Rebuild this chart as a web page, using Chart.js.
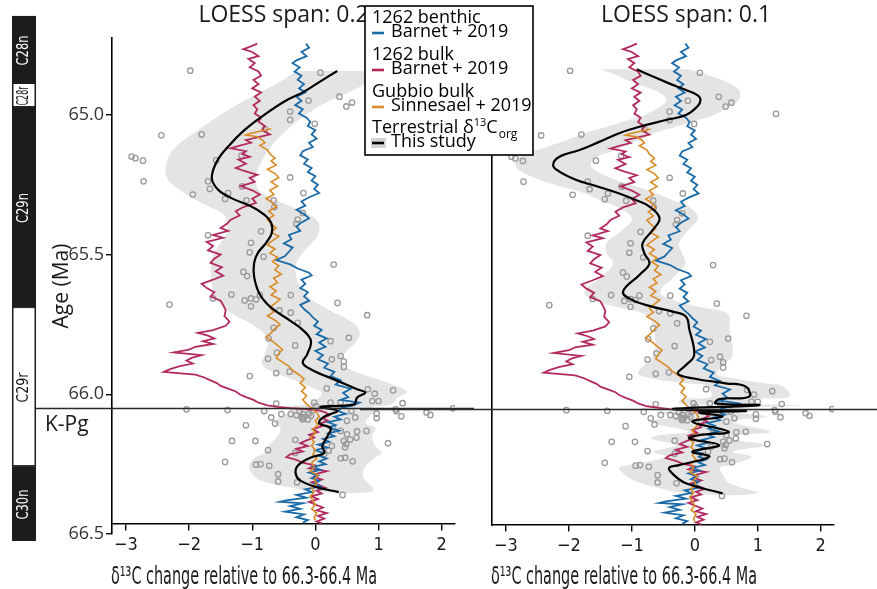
<!DOCTYPE html>
<html>
<head>
<meta charset="utf-8">
<script src="https://cdn.jsdelivr.net/npm/chart.js@4.4.1/dist/chart.umd.min.js"></script>
<style>
  html, body { margin: 0; padding: 0; background: #fff; }
  #wrap { position: relative; width: 877px; height: 589px; overflow: hidden; }
  #wrap canvas { position: absolute; top: 0; }
</style>
</head>
<body>
<div id="wrap">
  <canvas id="left-chart" width="474" height="589" style="left:0"></canvas>
  <canvas id="right-chart" width="517" height="589" style="left:360px"></canvas>
</div>

<script>
  // axis ticks
  const xTicks = [-3, -2, -1, 0, 1, 2];
  const yTicks = [65.0, 65.5, 66.0, 66.5];
  const kpgAge = 66.048;

  // magnetochrons (age in Ma)
  const chronNames = ['C28n', 'C28r', 'C29n', 'C29r', 'C30n'];
  const chronTop = [64.646, 64.886, 64.972, 65.688, 66.257];
  const chronBase = [64.886, 64.972, 65.688, 66.257, 66.525];
  const chronNormal = [true, false, true, false, true];

  // 1262 benthic (Barnet et al. 2019)
  const benthicAge = [64.745, 64.76, 64.775, 64.79, 64.805, 64.815, 64.83, 64.845, 64.86, 64.875, 64.89, 64.905, 64.92, 64.935, 64.95, 64.965, 64.98, 64.995, 65.01, 65.025, 65.04, 65.055, 65.07, 65.085, 65.10, 65.115, 65.13, 65.145, 65.16, 65.175, 65.19, 65.205, 65.22, 65.235, 65.25, 65.265, 65.28, 65.295, 65.31, 65.325, 65.34, 65.355, 65.37, 65.385, 65.40, 65.415, 65.43, 65.445, 65.46, 65.475, 65.49, 65.505, 65.52, 65.535, 65.55, 65.565, 65.575, 65.59, 65.605, 65.62, 65.635, 65.65, 65.665, 65.68, 65.695, 65.71, 65.725, 65.74, 65.755, 65.77, 65.785, 65.80, 65.815, 65.83, 65.845, 65.86, 65.875, 65.89, 65.905, 65.92, 65.935, 65.95, 65.965, 65.98, 65.995, 66.01, 66.02, 66.03, 66.04, 66.048, 66.06, 66.07, 66.08, 66.09, 66.10, 66.11, 66.12, 66.13, 66.14, 66.15, 66.16, 66.17, 66.18, 66.19, 66.20, 66.21, 66.22, 66.23, 66.24, 66.25, 66.26, 66.27, 66.28, 66.29, 66.30, 66.31, 66.32, 66.33, 66.34, 66.35, 66.36, 66.37, 66.38, 66.385, 66.39, 66.40, 66.41, 66.42, 66.43, 66.44, 66.45, 66.46];
  const benthicD13C = [-0.15, -0.10, -0.22, -0.14, -0.30, -0.36, -0.25, -0.33, -0.22, -0.28, -0.18, -0.26, -0.16, -0.30, -0.22, -0.32, -0.20, -0.26, -0.14, -0.08, -0.12, 0.00, -0.06, 0.02, -0.10, -0.04, -0.20, -0.24, -0.12, -0.18, -0.06, -0.12, 0.00, -0.06, 0.04, -0.02, 0.06, -0.10, -0.22, -0.16, -0.30, -0.18, -0.10, -0.22, -0.30, -0.24, -0.42, -0.38, -0.50, -0.36, -0.42, -0.48, -0.62, -0.40, -0.28, -0.10, -0.06, -0.22, -0.16, -0.24, -0.12, -0.18, -0.10, -0.24, -0.18, -0.10, -0.04, 0.04, -0.02, 0.10, 0.02, 0.18, 0.06, 0.16, 0.00, 0.12, 0.04, 0.20, 0.14, 0.30, 0.24, 0.40, 0.32, 0.56, 0.44, 0.52, 0.40, 0.70, 0.60, 0.42, 0.36, 0.48, 0.30, 0.40, 0.20, 0.32, 0.22, 0.38, 0.20, 0.30, 0.12, 0.22, 0.04, 0.18, 0.00, 0.12, 0.06, 0.18, 0.06, 0.16, -0.04, 0.08, -0.10, 0.04, -0.06, 0.06, -0.02, 0.08, -0.16, -0.06, -0.30, -0.14, -0.46, -0.56, -0.20, -0.40, -0.24, -0.48, -0.18, -0.30, -0.12, -0.20];

  // 1262 bulk (Barnet et al. 2019)
  const bulkAge = [64.745, 64.755, 64.765, 64.775, 64.79, 64.80, 64.815, 64.83, 64.845, 64.86, 64.875, 64.89, 64.905, 64.92, 64.935, 64.95, 64.965, 64.98, 64.995, 65.01, 65.025, 65.04, 65.055, 65.07, 65.08, 65.09, 65.10, 65.11, 65.12, 65.13, 65.14, 65.15, 65.16, 65.175, 65.19, 65.20, 65.215, 65.225, 65.24, 65.255, 65.27, 65.285, 65.30, 65.315, 65.33, 65.345, 65.36, 65.375, 65.39, 65.405, 65.415, 65.43, 65.44, 65.455, 65.47, 65.485, 65.50, 65.515, 65.53, 65.545, 65.56, 65.575, 65.59, 65.605, 65.62, 65.635, 65.65, 65.665, 65.68, 65.70, 65.72, 65.74, 65.755, 65.77, 65.78, 65.79, 65.80, 65.81, 65.82, 65.83, 65.84, 65.85, 65.86, 65.87, 65.88, 65.89, 65.90, 65.91, 65.92, 65.93, 65.94, 65.95, 65.96, 65.97, 65.98, 65.99, 66.00, 66.01, 66.02, 66.03, 66.04, 66.045, 66.05, 66.053, 66.058, 66.065, 66.075, 66.085, 66.095, 66.105, 66.115, 66.125, 66.135, 66.145, 66.155, 66.165, 66.175, 66.185, 66.195, 66.205, 66.215, 66.225, 66.235, 66.245, 66.255, 66.265, 66.275, 66.285, 66.295, 66.305, 66.315, 66.325, 66.335, 66.345, 66.355, 66.365, 66.375, 66.385, 66.395, 66.405, 66.415, 66.425, 66.435, 66.445, 66.455, 66.462];
  const bulkD13C = [-0.92, -1.02, -1.14, -1.00, -0.90, -1.06, -0.96, -1.04, -0.90, -0.86, -0.98, -0.90, -1.00, -0.86, -0.96, -0.88, -0.98, -0.92, -0.96, -0.86, -0.90, -0.80, -0.84, -0.72, -0.90, -1.10, -1.02, -1.20, -1.34, -1.10, -1.16, -1.04, -1.22, -1.10, -1.26, -1.14, -0.92, -1.04, -0.96, -1.18, -1.00, -0.88, -1.00, -0.94, -1.14, -1.26, -1.20, -1.34, -1.40, -1.50, -1.38, -1.62, -1.46, -1.72, -1.62, -1.70, -1.50, -1.60, -1.66, -1.48, -1.58, -1.46, -1.62, -1.80, -1.72, -1.60, -1.66, -1.50, -1.46, -1.42, -1.44, -1.36, -1.42, -1.62, -1.86, -1.70, -1.60, -1.78, -1.62, -1.90, -2.00, -2.24, -1.80, -1.96, -2.04, -1.94, -2.16, -2.30, -2.40, -1.90, -1.76, -1.66, -1.56, -1.50, -1.38, -1.26, -1.20, -1.10, -0.98, -0.90, -0.76, -0.60, -0.40, -0.15, 0.05, 0.16, 0.22, 0.12, 0.20, 0.06, 0.10, -0.04, 0.04, -0.10, -0.02, -0.14, -0.24, -0.12, -0.30, -0.20, -0.40, -0.46, -0.30, -0.20, 0.00, -0.10, 0.18, 0.02, -0.02, 0.10, -0.06, 0.06, 0.16, 0.02, 0.10, -0.06, 0.04, -0.10, 0.00, 0.12, 0.02, 0.18, 0.04, 0.14, 0.02, 0.10];

  // Gubbio bulk (Sinnesael et al. 2019)
  const gubbioAge = [65.050, 65.058, 65.066, 65.072, 65.078, 65.09, 65.10, 65.11, 65.125, 65.14, 65.155, 65.165, 65.18, 65.195, 65.21, 65.225, 65.24, 65.255, 65.27, 65.285, 65.30, 65.315, 65.33, 65.345, 65.36, 65.375, 65.39, 65.405, 65.42, 65.435, 65.45, 65.465, 65.48, 65.495, 65.51, 65.525, 65.54, 65.555, 65.57, 65.585, 65.60, 65.615, 65.63, 65.645, 65.66, 65.675, 65.69, 65.705, 65.72, 65.735, 65.75, 65.765, 65.78, 65.795, 65.81, 65.825, 65.84, 65.855, 65.87, 65.885, 65.90, 65.915, 65.93, 65.945, 65.96, 65.975, 65.99, 66.005, 66.02, 66.035, 66.05, 66.065, 66.08, 66.095, 66.11, 66.125, 66.14, 66.155, 66.17, 66.185, 66.20, 66.215, 66.23, 66.245, 66.26, 66.275, 66.29, 66.305, 66.32, 66.335, 66.35, 66.365, 66.38, 66.395, 66.41, 66.425, 66.44, 66.452];
  const gubbioD13C = [-0.70, -0.86, -1.02, -1.10, -0.92, -0.84, -0.80, -0.88, -0.76, -0.72, -0.64, -0.70, -0.62, -0.76, -0.64, -0.58, -0.70, -0.60, -0.72, -0.66, -0.78, -0.68, -0.62, -0.74, -0.66, -0.76, -0.70, -0.62, -0.70, -0.58, -0.68, -0.76, -0.64, -0.72, -0.60, -0.68, -0.58, -0.64, -0.54, -0.66, -0.60, -0.72, -0.62, -0.70, -0.56, -0.64, -0.72, -0.66, -0.76, -0.64, -0.56, -0.64, -0.70, -0.78, -0.68, -0.60, -0.52, -0.58, -0.62, -0.52, -0.42, -0.36, -0.26, -0.18, -0.24, -0.16, -0.22, -0.14, -0.20, -0.14, -0.06, 0.02, 0.06, 0.00, 0.04, -0.04, 0.00, -0.08, -0.02, -0.06, 0.00, -0.04, 0.02, -0.06, -0.02, -0.08, 0.04, -0.02, 0.02, -0.06, -0.02, -0.08, -0.04, 0.00, -0.06, 0.02, -0.02, 0.00];

  // terrestrial d13C org (this study)
  const terrAge = [64.842, 64.849, 64.935, 64.956, 64.970, 64.949, 64.988, 65.018, 65.032, 64.996, 65.051, 65.073, 65.070, 65.149, 65.155, 65.164, 65.238, 65.238, 65.265, 65.280, 65.285, 65.301, 65.306, 65.306, 65.330, 65.224, 65.280, 65.375, 65.390, 65.351, 65.417, 65.431, 65.458, 65.492, 65.508, 65.562, 65.577, 65.536, 65.163, 65.146, 65.256, 65.679, 65.657, 65.643, 65.664, 65.657, 65.661, 65.685, 65.645, 65.645, 65.673, 65.717, 65.700, 65.708, 65.744, 65.762, 65.800, 65.825, 65.798, 65.810, 65.851, 65.873, 65.863, 65.883, 65.902, 65.875, 65.924, 65.919, 65.935, 65.979, 65.982, 65.998, 65.986, 66.024, 66.024, 66.032, 66.030, 66.042, 66.030, 66.030, 66.033, 66.054, 66.056, 66.060, 66.071, 66.083, 66.071, 66.071, 66.083, 66.089, 66.077, 66.060, 66.083, 66.069, 66.085, 66.054, 66.060, 66.079, 66.065, 66.074, 66.050, 66.105, 66.111, 66.095, 66.131, 66.133, 66.131, 66.143, 66.155, 66.167, 66.162, 66.190, 66.178, 66.167, 66.167, 66.163, 66.175, 66.200, 66.210, 66.214, 66.202, 66.185, 66.229, 66.227, 66.240, 66.242, 66.252, 66.250, 66.256, 66.286, 66.312, 66.315, 66.360, 66.062, 66.068, 66.075, 66.082, 66.090, 66.058, 66.095, 66.120];
  const terrD13C = [-1.98, 0.08, 0.38, 0.58, 0.49, -0.11, -0.40, -0.40, -0.01, 1.29, -0.80, -2.44, -1.80, -2.91, -2.85, -2.73, -2.72, -1.70, -1.67, -1.38, -1.94, -1.43, -1.09, -0.66, -0.65, -0.40, -0.19, -0.28, -0.30, -0.20, -0.86, -1.70, -1.02, -1.04, -0.82, -1.14, -1.08, 0.29, -1.57, -1.17, -1.16, -2.31, -1.62, -1.33, -1.12, -1.02, -0.94, -1.02, -0.88, -0.39, 0.35, 0.82, -0.57, -0.39, -0.28, -0.66, -0.74, -0.32, 0.53, 0.24, -0.61, -0.75, 0.40, 0.45, 0.45, 0.26, -0.62, -0.41, -1.04, 0.18, 0.83, 0.94, 1.23, 0.90, 1.00, 1.38, -0.02, 0.01, 0.24, 0.40, -0.62, -2.04, -1.39, -0.81, -0.54, -0.70, -0.39, -0.20, -0.18, -0.20, -0.07, 0.57, 0.63, 0.97, 0.97, 1.27, 1.28, 1.36, 1.76, 1.82, 2.18, -0.64, -1.10, 0.50, 0.40, 0.66, 0.81, 0.50, 0.65, 0.45, 0.55, 0.47, 0.49, -1.32, -0.95, -0.32, 1.15, -0.75, -0.32, 0.14, 0.21, 0.26, 0.40, 0.47, 0.59, -1.43, -0.94, -0.87, -0.73, -0.59, -0.59, -0.29, 0.43, -0.25, -0.10, -0.30, -0.22, -0.12, -0.05, 0.10, 0.28];

  // LOESS fit, span 0.2, with confidence band
  const loess02Age = [64.843, 64.88, 64.917, 64.952, 65.0, 65.054, 65.113, 65.167, 65.226, 65.268, 65.298, 65.327, 65.357, 65.387, 65.423, 65.458, 65.494, 65.53, 65.58, 65.643, 65.69, 65.738, 65.774, 65.81, 65.857, 65.887, 65.911, 65.952, 65.982, 65.994, 66.012, 66.036, 66.045, 66.059, 66.08, 66.104, 66.121, 66.15, 66.186, 66.21, 66.226, 66.256, 66.286, 66.31, 66.333, 66.35];
  const loess02Fit = [0.345, 0.08, -0.18, -0.49, -0.81, -1.12, -1.38, -1.56, -1.64, -1.54, -1.33, -1.02, -0.81, -0.70, -0.69, -0.78, -0.91, -0.97, -0.97, -0.88, -0.70, -0.39, -0.18, -0.07, -0.13, -0.20, -0.07, 0.35, 0.66, 0.79, 0.66, 0.61, 0.08, 0.35, 0.14, 0.06, 0.24, 0.19, 0.11, 0.14, -0.07, -0.28, -0.31, -0.23, 0.03, 0.37];
  const loess02Lo = [-0.30, -0.55, -0.85, -1.15, -1.50, -1.85, -2.20, -2.35, -2.35, -2.15, -1.95, -1.70, -1.45, -1.40, -1.40, -1.50, -1.60, -1.65, -1.65, -1.60, -1.45, -1.10, -0.85, -0.75, -0.80, -0.85, -0.75, -0.30, 0.00, 0.10, 0.05, -0.15, -0.55, -0.40, -0.55, -0.65, -0.55, -0.60, -0.75, -0.80, -0.95, -1.05, -1.00, -0.85, -0.40, 0.00];
  const loess02Hi = [0.75, 0.80, 0.55, 0.20, -0.15, -0.45, -0.70, -0.85, -0.95, -0.90, -0.70, -0.40, -0.10, 0.05, 0.05, -0.05, -0.20, -0.30, -0.30, -0.15, 0.15, 0.55, 0.70, 0.65, 0.45, 0.40, 0.55, 1.05, 1.40, 1.45, 1.30, 1.20, 0.90, 1.00, 0.85, 0.80, 0.95, 0.90, 0.95, 1.05, 0.95, 0.80, 0.75, 0.80, 0.90, 0.90];

  // LOESS fit, span 0.1, with confidence band
  const loess01Age = [64.837, 64.857, 64.887, 64.911, 64.929, 64.946, 64.970, 65.0, 65.018, 65.042, 65.065, 65.095, 65.125, 65.149, 65.179, 65.202, 65.232, 65.25, 65.28, 65.304, 65.327, 65.369, 65.411, 65.458, 65.494, 65.53, 65.571, 65.631, 65.661, 65.685, 65.702, 65.720, 65.762, 65.857, 65.893, 65.923, 65.940, 65.958, 65.970, 66.006, 66.014, 66.030, 66.036, 66.050, 66.057, 66.062, 66.077, 66.095, 66.131, 66.143, 66.155, 66.179, 66.202, 66.22, 66.25, 66.26, 66.286, 66.315, 66.351];
  const loess01Fit = [-0.92, -0.72, -0.41, -0.14, 0.04, 0.09, 0.04, -0.14, -0.46, -0.88, -1.20, -1.51, -1.83, -2.15, -2.25, -2.15, -1.88, -1.62, -1.20, -0.93, -0.72, -0.56, -0.67, -0.83, -0.80, -0.72, -0.88, -1.14, -0.99, -0.67, -0.35, -0.14, -0.09, -0.01, -0.14, -0.27, -0.04, 0.49, 0.81, 0.86, 0.39, 0.33, 1.02, -0.35, 0.81, 0.07, 0.44, -0.04, 0.54, 0.07, -0.09, 0.39, -0.04, 0.23, -0.25, -0.41, -0.33, -0.14, 0.44];
  const loess01Lo = [-1.50, -1.25, -0.95, -0.65, -0.50, -0.45, -0.55, -0.80, -1.05, -1.40, -1.75, -2.10, -2.50, -2.80, -2.85, -2.75, -2.45, -2.20, -1.75, -1.50, -1.25, -1.00, -1.15, -1.40, -1.40, -1.30, -1.45, -1.75, -1.60, -1.25, -0.90, -0.75, -0.65, -0.65, -0.80, -0.90, -0.70, -0.15, 0.20, 0.25, -0.20, -0.25, 0.40, -0.95, 0.20, -0.55, -0.25, -0.70, -0.10, -0.55, -0.70, -0.30, -0.65, -0.45, -1.05, -1.20, -1.10, -0.85, -0.10];
  const loess01Hi = [-0.10, 0.20, 0.55, 0.70, 0.72, 0.70, 0.55, 0.30, 0.05, -0.30, -0.65, -0.95, -1.25, -1.55, -1.65, -1.55, -1.25, -1.00, -0.60, -0.35, -0.10, 0.05, -0.10, -0.25, -0.20, -0.15, -0.30, -0.55, -0.35, 0.05, 0.45, 0.55, 0.55, 0.60, 0.45, 0.35, 0.60, 1.10, 1.40, 1.50, 1.00, 0.95, 1.65, 0.30, 1.45, 0.70, 1.15, 0.60, 1.20, 0.70, 0.55, 1.10, 0.60, 0.90, 0.55, 0.40, 0.45, 0.55, 1.00];

  const COND = '"DejaVu Sans Condensed", "Liberation Sans Narrow", sans-serif';
  const SANS = '"Open Sans", "DejaVu Sans", sans-serif';
  const INK = '#1a1a1a';
  const BLUE = '#1a6aa8';
  const MAGENTA = '#b22a60';
  const ORANGE = '#d98b25';
  const BAND = '#e4e4e4';
  const DOT = '#9a9a9a';
  const X_TITLE = 'δ¹³C change relative to 66.3-66.4 Ma';

  const toPoints = (ages, vals) => ages.map((a, i) => ({ x: vals[i], y: a }));
  const toBand = (ages, lo, hi) =>
    ages.map((a, i) => ({ x: lo[i], y: a })).concat(ages.map((a, i) => ({ x: hi[i], y: a })).reverse());
  const fmtX = v => (v < 0 ? '\u2212' + Math.abs(v) : String(v));

  // draw text squeezed horizontally to a given width (stand-in for a condensed face)
  function squeezeText(ctx, text, x, y, width) {
    const w = ctx.measureText(text).width;
    ctx.save();
    ctx.translate(x, y);
    ctx.scale(Math.min(1, width / w), 1);
    ctx.fillText(text, 0, 0);
    ctx.restore();
  }

  function makeDatasets(fitAge, fit, lo, hi) {
    return [
      { data: toPoints(fitAge, fit), showLine: true, borderColor: '#000', borderWidth: 2.2, tension: 0.4, pointRadius: 0 },
      { data: toPoints(gubbioAge, gubbioD13C), showLine: true, borderColor: ORANGE, borderWidth: 1.6, tension: 0, pointRadius: 0 },
      { data: toPoints(benthicAge, benthicD13C), showLine: true, borderColor: BLUE, borderWidth: 1.8, tension: 0, pointRadius: 0 },
      { data: toPoints(bulkAge, bulkD13C), showLine: true, borderColor: MAGENTA, borderWidth: 1.8, tension: 0, pointRadius: 0 },
      { data: toPoints(terrAge, terrD13C), showLine: false, pointRadius: 2.7, pointBorderWidth: 1.3,
        pointBorderColor: DOT, pointBackgroundColor: 'rgba(255,255,255,0)' },
      { data: toBand(fitAge, lo, hi), showLine: true, borderWidth: 0, borderColor: 'rgba(0,0,0,0)',
        backgroundColor: BAND, fill: 'shape', tension: 0.4, pointRadius: 0 }
    ];
  }

  function xScale(yBase) {
    return {
      type: 'linear', min: -3.22, max: 2.21,
      position: { y: yBase },
      afterBuildTicks: s => { s.ticks = xTicks.map(v => ({ value: v })); },
      grid: { display: true, drawOnChartArea: false, drawTicks: true, tickLength: 6, color: '#000', lineWidth: 1.4 },
      border: { display: true, color: '#000', width: 1.5 },
      ticks: { color: INK, padding: 5, font: { family: COND, size: 18 }, callback: v => fmtX(v) },
      title: { display: false }
    };
  }

  // chrons, K-Pg line, panel title, x title and legend
  const decor = {
    id: 'decor',
    beforeDraw(chart) {
      const o = chart.options.plugins.decor;
      const { ctx, chartArea } = chart;
      ctx.save();
      ctx.fillStyle = INK;
      ctx.font = '23px ' + SANS;
      ctx.textAlign = 'center';
      ctx.textBaseline = 'middle';
      ctx.fillText(o.title, (chartArea.left + chartArea.right) / 2 + o.titleShift, 15);
      ctx.textAlign = 'left';
      ctx.font = '25px ' + COND;
      squeezeText(ctx, X_TITLE, chartArea.left - 1, 577, 266);
      if (o.chrons) {
        const y = chart.scales.y;
        ctx.textAlign = 'center';
        chronNames.forEach((name, i) => {
          const t = y.getPixelForValue(chronTop[i]);
          const b = y.getPixelForValue(chronBase[i]);
          ctx.fillStyle = '#1c1c1c';
          ctx.fillRect(12, t, 24, b - t);
          if (!chronNormal[i]) {
            ctx.fillStyle = '#fff';
            ctx.fillRect(13.5, t + 1, 21, b - t - 2);
          }
          ctx.save();
          ctx.translate(24, (t + b) / 2 + 1);
          ctx.rotate(-Math.PI / 2);
          ctx.fillStyle = chronNormal[i] ? '#fff' : '#111';
          ctx.font = '16px ' + COND;
          squeezeText(ctx, name, 0, 0, Math.min(30, b - t - 5));
          ctx.restore();
        });
        ctx.fillStyle = INK;
        ctx.font = '21px ' + SANS;
        ctx.textAlign = 'left';
        ctx.fillText('K-Pg', 45, y.getPixelForValue(kpgAge) + 17);
      }
      ctx.restore();
    },
    afterDatasetsDraw(chart) {
      const o = chart.options.plugins.decor;
      const { ctx } = chart;
      const yk = Math.round(chart.scales.y.getPixelForValue(kpgAge)) + 0.5;
      ctx.save();
      ctx.strokeStyle = '#2a2a2a';
      ctx.lineWidth = 1.3;
      ctx.beginPath();
      ctx.moveTo(o.kpgFrom, yk);
      ctx.lineTo(chart.width, yk);
      ctx.stroke();
      ctx.restore();
    },
    afterDraw(chart) {
      const o = chart.options.plugins.decor;
      if (!o.legend) return;
      const { ctx } = chart;
      const L = 5, T = 6, W = 168, H = 149;
      ctx.save();
      ctx.fillStyle = '#fff';
      ctx.fillRect(L, T, W, H);
      ctx.strokeStyle = '#000';
      ctx.lineWidth = 1.6;
      ctx.strokeRect(L, T, W, H);
      ctx.fillStyle = '#000';
      ctx.textBaseline = 'middle';
      ctx.textAlign = 'left';
      ctx.font = '18px ' + SANS;
      const tx = L + 7, lx = L + 26;
      const dash = (y, color) => {
        ctx.strokeStyle = color; ctx.lineWidth = 2.6;
        ctx.beginPath(); ctx.moveTo(tx, y); ctx.lineTo(tx + 12, y); ctx.stroke();
      };
      ctx.fillText('1262 benthic', tx, T + 12);
      dash(T + 27, BLUE); ctx.fillText('Barnet + 2019', lx, T + 26);
      ctx.fillText('1262 bulk', tx, T + 49);
      dash(T + 64, MAGENTA); ctx.fillText('Barnet + 2019', lx, T + 63);
      ctx.fillText('Gubbio bulk', tx, T + 86);
      dash(T + 101, ORANGE); ctx.fillText('Sinnesael + 2019', lx, T + 100);
      let x = tx;
      const yT = T + 122;
      ctx.fillText('Terrestrial δ', x, yT); x += ctx.measureText('Terrestrial δ').width;
      ctx.font = '11px ' + SANS;
      ctx.fillText('13', x, yT - 5); x += ctx.measureText('13').width;
      ctx.font = '18px ' + SANS;
      ctx.fillText('C', x, yT); x += ctx.measureText('C').width + 1;
      ctx.font = '12px ' + SANS;
      ctx.fillText('org', x, yT + 7);
      ctx.fillStyle = '#d4d4d4';
      ctx.fillRect(tx - 1, T + 132, 15, 10);
      dash(T + 137, '#000');
      ctx.fillStyle = '#000';
      ctx.font = '18px ' + SANS;
      ctx.fillText('This study', lx, T + 136);
      ctx.restore();
    }
  };

  const common = {
    responsive: false,
    animation: false,
    devicePixelRatio: 1,
    events: []
  };

  new Chart(document.getElementById('left-chart'), {
    type: 'scatter',
    data: { datasets: makeDatasets(loess02Age, loess02Fit, loess02Lo, loess02Hi) },
    options: {
      ...common,
      layout: { padding: { top: 38, right: 19, bottom: 55, left: 0 } },
      plugins: {
        legend: { display: false }, tooltip: { enabled: false },
        decor: { title: 'LOESS span: 0.2', titleShift: 0, chrons: true, kpgFrom: 36, legend: false }
      },
      scales: {
        x: xScale(66.464),
        y: {
          type: 'linear', reverse: true, min: 64.725, max: 66.5,
          afterFit: s => { s.width = 112; },
          afterBuildTicks: s => { s.ticks = yTicks.map(v => ({ value: v })); },
          grid: { display: true, drawOnChartArea: false, drawTicks: true, tickLength: 6, color: '#000', lineWidth: 1.4 },
          border: { display: true, color: '#000', width: 1.6 },
          ticks: { color: '#333', padding: 2, font: { family: SANS, size: 18 }, callback: v => v.toFixed(1) },
          title: { display: true, text: 'Age (Ma)', color: INK, font: { family: SANS, size: 21 }, padding: { top: 49, bottom: 0 } }
        }
      }
    },
    plugins: [decor]
  });

  new Chart(document.getElementById('right-chart'), {
    type: 'scatter',
    data: { datasets: makeDatasets(loess01Age, loess01Fit, loess01Lo, loess01Hi) },
    options: {
      ...common,
      layout: { padding: { top: 38, right: 43, bottom: 64, left: 0 } },
      plugins: {
        legend: { display: false }, tooltip: { enabled: false },
        decor: { title: 'LOESS span: 0.1', titleShift: 23, chrons: false, kpgFrom: 0, legend: true }
      },
      scales: {
        x: xScale(66.464),
        y: {
          type: 'linear', reverse: true, min: 64.725, max: 66.464,
          afterFit: s => { s.width = 132; },
          grid: { display: false },
          border: { display: true, color: '#000', width: 1.6 },
          ticks: { display: false }
        }
      }
    },
    plugins: [decor]
  });
</script>
</body>
</html>
